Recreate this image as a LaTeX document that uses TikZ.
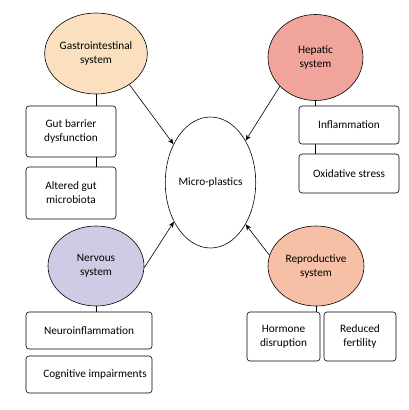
\documentclass[tikz,border=0pt]{standalone}
\usepackage{fontspec}
\setmainfont{Carlito}
\usetikzlibrary{shapes.geometric,arrows.meta}
\definecolor{gicol}{RGB}{250,224,190}
\definecolor{hepcol}{RGB}{240,164,156}
\definecolor{nervcol}{RGB}{208,202,228}
\definecolor{repcol}{RGB}{246,192,166}
\tikzset{
  sys/.style={ellipse, draw, line width=0.6pt, inner sep=0pt, minimum width=96pt, minimum height=81pt, align=center, font=\fontsize{11.3}{14}\selectfont},
  effbox/.style={draw, line width=0.6pt, rounded corners=3pt, inner sep=0pt, align=center, font=\fontsize{11.3}{14}\selectfont},
  link/.style={line width=0.6pt},
  arr/.style={line width=0.6pt, -{Stealth[length=6pt,width=5pt]}}
}
\begin{document}
\begin{tikzpicture}[x=1pt,y=-1pt]
\useasboundingbox (0,0) rectangle (409,410);
% central
\node[ellipse, draw, line width=0.6pt, inner sep=0pt, minimum width=89pt, minimum height=131pt, font=\fontsize{11.3}{14}\selectfont] (m) at (210.5,182.5) {Micro-plastics};
% systems
\node[sys, fill=gicol] (g) at (96,53.5) {Gastrointestinal\\system};
\node[sys, fill=hepcol, minimum width=95pt, minimum height=86pt] (h) at (315.5,57.5) {Hepatic\\system};
\node[sys, fill=nervcol, minimum height=80pt] (n) at (96,266) {Nervous\\system};
\node[sys, fill=repcol, minimum height=80pt] (r) at (316,266) {Reproductive\\system};
% effect boxes
\node[effbox, minimum width=90pt, minimum height=51pt] (g1) at (71,131.5) {Gut barrier\\dysfunction};
\node[effbox, minimum width=90pt, minimum height=52pt] (g2) at (71,193) {Altered gut\\microbiota};
\node[effbox, minimum width=100pt, minimum height=38pt] (h1) at (349,125) {Inflammation};
\node[effbox, minimum width=100pt, minimum height=39pt] (h2) at (349,173.5) {Oxidative stress};
\node[effbox, minimum width=126pt, minimum height=37pt] (n1) at (89,330.5) {Neuroinflammation};
\node[effbox, minimum width=126pt, minimum height=37pt] (n2) at (89,374.5) {\hspace*{12pt}Cognitive impairments};
\node[effbox, minimum width=73pt, minimum height=49pt] (r1) at (283.5,336.5) {Hormone\\disruption};
\node[effbox, minimum width=72pt, minimum height=49pt] (r2) at (360,336.5) {Reduced\\fertility};
% links
\draw[link] (g.south) -- (g.south |- g1.north);
\draw[link] (g1.south -| g.south) -- (g.south |- g2.north);
\draw[link] (h.south) -- (h.south |- h1.north);
\draw[link] (h1.south -| h.south) -- (h.south |- h2.north);
\draw[link] (n.south) -- (n.south |- n1.north);
\draw[link] (r.south) -- (r.south |- r1.north);
% arrows
\draw[arr] (g.-43.6) -- (m.134.2);
\draw[arr] (h.-141) -- (m.50.3);
\draw[arr] (n.-2) -- (m.-133.5);
\draw[arr] (r.167.5) -- (m.-50.3);
\end{tikzpicture}
\end{document}
